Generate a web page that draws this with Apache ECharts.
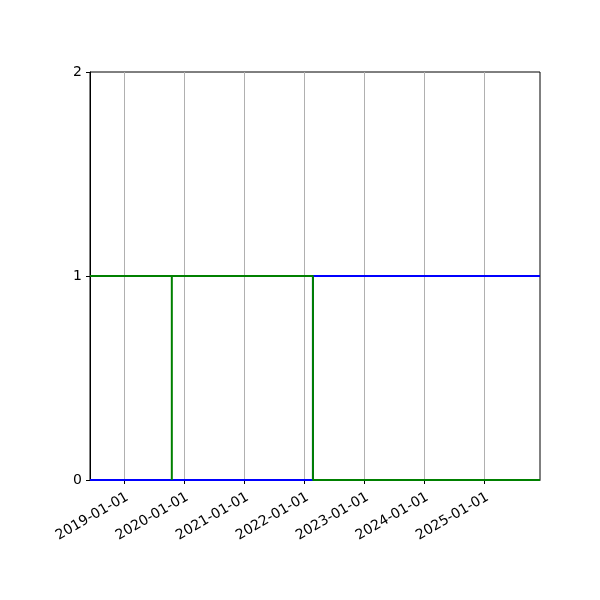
<!DOCTYPE html>
<html>
<head>
<meta charset="utf-8">
<script src="https://cdn.jsdelivr.net/npm/echarts@6/dist/echarts.min.js"></script>
<style>html,body{margin:0;padding:0;background:#fff}#c{width:600px;height:600px}</style>
</head>
<body>
<div id="c"></div>
<script>
var xMin = '2018-06-08';
var xMax = '2025-12-07';
var tickDates = ['2019-01-01','2020-01-01','2021-01-01','2022-01-01','2023-01-01','2024-01-01','2025-01-01'];
var yTicks = [0, 1, 2];
var blueDates = ['2018-06-08','2022-02-24','2022-02-24','2025-12-07'];
var blueValues = [0, 0, 1, 1];
var greenDates = ['2018-06-08','2019-10-19','2019-10-19','2019-10-19','2022-02-24','2022-02-24','2025-12-07'];
var greenValues = [1, 1, 0, 1, 1, 0, 0];

function ts(d){ return new Date(d + 'T00:00:00Z').getTime(); }
function pad(n){ return (n<10?'0':'')+n; }
function fmt(v){ var d=new Date(v); return d.getUTCFullYear()+'-'+pad(d.getUTCMonth()+1)+'-'+pad(d.getUTCDate()); }
var tickTs = tickDates.map(ts);

var chart = echarts.init(document.getElementById('c'), null, {renderer:'canvas'});
chart.setOption({
  animation: false,
  grid: {left: 90, right: 60, top: 72, bottom: 120, show: true, borderColor: '#000', borderWidth: 1, backgroundColor: 'transparent', containLabel: false},
  xAxis: {
    type: 'value',
    min: ts(xMin), max: ts(xMax),
    axisLine: {show: true, lineStyle: {color: '#000', width: 1}},
    axisTick: {show: true, length: 4, lineStyle: {color: '#000'}, customValues: tickTs},
    axisLabel: {show: true, customValues: tickTs, rotate: 30, verticalAlign: 'top', color: '#000', fontSize: 14, fontFamily: 'DejaVu Sans', margin: 10, formatter: function(v){ return fmt(v); }},
    splitLine: {show: true, customValues: tickTs, lineStyle: {color: '#b0b0b0', width: 1}}
  },
  yAxis: {
    type: 'value', min: yTicks[0], max: yTicks[yTicks.length-1], interval: 1,
    axisLine: {show: true, lineStyle: {color: '#000', width: 1}},
    axisTick: {show: true, length: 4, inside: false, lineStyle: {color: '#000'}},
    axisLabel: {color: '#000', fontSize: 14, fontFamily: 'DejaVu Sans', margin: 8},
    splitLine: {show: false}
  },
  series: [
    {type: 'line', data: blueDates.map(function(d,i){ return [ts(d), blueValues[i]]; }), showSymbol: false, lineStyle: {color: '#0000ff', width: 2}, itemStyle:{color:'#0000ff'}, z: 2},
    {type: 'line', data: greenDates.map(function(d,i){ return [ts(d), greenValues[i]]; }), showSymbol: false, lineStyle: {color: '#008000', width: 2}, itemStyle:{color:'#008000'}, z: 3}
  ]
});
</script>
</body>
</html>
